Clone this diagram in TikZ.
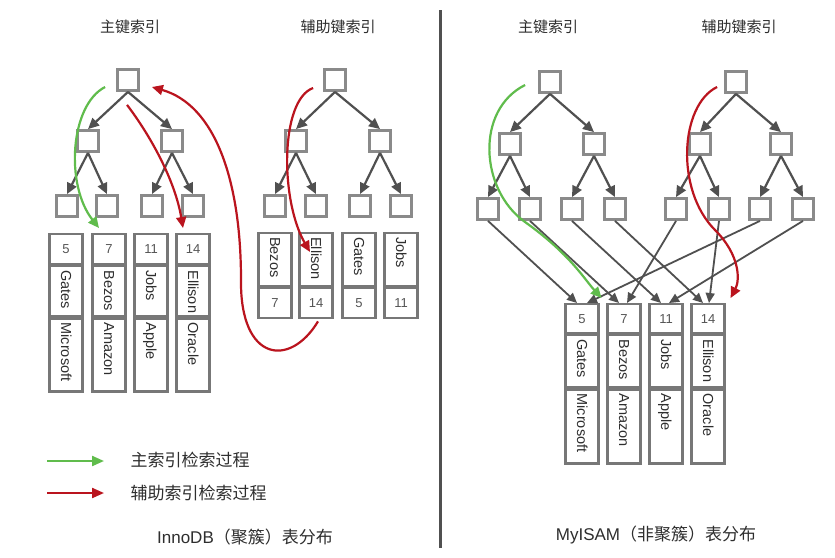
\documentclass[tikz,border=0pt]{standalone}
\usepackage{fontspec}
\setmainfont{Liberation Sans}
\newfontfamily\cjk{Noto Sans CJK SC}
\usetikzlibrary{arrows.meta,calc}

\definecolor{boxgray}{HTML}{8A8A8A}
\definecolor{edgegray}{HTML}{505050}
\definecolor{cellgray}{HTML}{777777}
\definecolor{txtgray}{HTML}{2E2E2E}
\definecolor{numgray}{HTML}{555555}
\definecolor{pathgreen}{RGB}{96,188,76}
\definecolor{pathred}{RGB}{186,20,30}

\begin{document}
\begin{tikzpicture}[x=1pt,y=-1pt,
  ibox/.style={draw=boxgray, line width=2.8pt, fill=white,
    minimum width=21pt, minimum height=21pt, inner sep=0pt},
  edge/.style={draw=edgegray, line width=2.2pt,
    -{Triangle[length=11pt,width=10pt]}},
  link/.style={draw=edgegray, line width=1.8pt,
    -{Triangle[length=10pt,width=9pt]}},
  cell/.style={draw=cellgray, line width=2.2pt, fill=white,
    minimum width=33pt, inner sep=0pt, anchor=north},
  numtext/.style={text=numgray, font=\fontsize{13}{15}\selectfont},
  vtext/.style={rotate=-90, anchor=west, inner sep=0pt, text=txtgray,
    text height=10pt, text depth=0pt, font=\fontsize{14.5}{16}\selectfont},
  green path/.style={draw=pathgreen, line width=2.2pt,
    -{Triangle[length=11pt,width=10pt]}},
  red path/.style={draw=pathred, line width=2.2pt,
    -{Triangle[length=11pt,width=10pt]}},
  title/.style={text=txtgray, font=\cjk\fontsize{15}{17}\selectfont},
  caption/.style={text=txtgray, font=\fontsize{17}{19}\selectfont},
  legendtext/.style={text=txtgray, anchor=west, font=\cjk\fontsize{17}{19}\selectfont},
  divider/.style={draw=edgegray, line width=3pt}
]
\path[fill=white] (0,0) rectangle (835,557);
\useasboundingbox (0,0) rectangle (835,557);

% ---------- titles ----------
\node[title] (t1) at (130,27) {主键索引};
\node[title] (t2) at (338,27) {辅助键索引};
\node[title] (t3) at (548,27) {主键索引};
\node[title] (t4) at (739,27) {辅助键索引};

% ---------- divider ----------
\coordinate (dtop) at (440,10);
\coordinate (dbot) at (440,548);
\draw[divider] (dtop) -- (dbot);

% ================= InnoDB =================
% primary index tree
\node[ibox] (pa)  at (128,80) {};
\node[ibox] (pb1) at (88,141) {};
\node[ibox] (pb2) at (172,141) {};
\node[ibox] (pc1) at (67,206) {};
\node[ibox] (pc2) at (107,206) {};
\node[ibox] (pc3) at (152,206) {};
\node[ibox] (pc4) at (193,206) {};
\draw[edge] (pa.south) -- (pb1.north);
\draw[edge] (pa.south) -- (pb2.north);
\draw[edge] (pb1.south) -- (pc1.north);
\draw[edge] (pb1.south) -- (pc2.north);
\draw[edge] (pb2.south) -- (pc3.north);
\draw[edge] (pb2.south) -- (pc4.north);

% primary index rows: key / name / company
\foreach \n/\x/\kv/\nm/\co in {1/66/5/Gates/Microsoft, 2/109/7/Bezos/Amazon,
                               3/151/11/Jobs/Apple, 4/193/14/Ellison/Oracle} {
  \node[cell, minimum height=30pt, numtext] (pk\n) at (\x,233) {\kv};
  \node[cell, minimum height=50pt] (pn\n) at (pk\n.south) {};
  \node[cell, minimum height=73pt] (pm\n) at (pn\n.south) {};
  \node[vtext] (pnt\n) at ([yshift=-5pt]pn\n.north) {\nm};
  \node[vtext] (pmt\n) at ([yshift=-5pt]pm\n.north) {\co};
}

% secondary index tree
\node[ibox] (sa)  at (335,80) {};
\node[ibox] (sb1) at (296,141) {};
\node[ibox] (sb2) at (380,141) {};
\node[ibox] (sc1) at (275,206) {};
\node[ibox] (sc2) at (316,206) {};
\node[ibox] (sc3) at (360,206) {};
\node[ibox] (sc4) at (401,206) {};
\draw[edge] (sa.south) -- (sb1.north);
\draw[edge] (sa.south) -- (sb2.north);
\draw[edge] (sb1.south) -- (sc1.north);
\draw[edge] (sb1.south) -- (sc2.north);
\draw[edge] (sb2.south) -- (sc3.north);
\draw[edge] (sb2.south) -- (sc4.north);

% secondary index rows: name / key
\foreach \n/\x/\nm/\kv in {1/275/Bezos/7, 2/316/Ellison/14,
                           3/359/Gates/5, 4/401/Jobs/11} {
  \node[cell, minimum height=53pt] (sn\n) at (\x,232) {};
  \node[cell, minimum height=30pt, numtext] (sk\n) at (sn\n.south) {\kv};
  \node[vtext] (snt\n) at ([yshift=-5pt]sn\n.north) {\nm};
}

% search paths
\coordinate (g1s) at ($(pa.west)+(-11,7)$);
\coordinate (g1e) at ($(pk2.north)+(-10,-5)$);
\draw[green path] (g1s) .. controls (70,105) and (65,185) .. (g1e);

\coordinate (r1s) at ($(pa.south)+(-1,13)$);
\coordinate (r1e) at ($(pk4.north)+(-10,-5)$);
\draw[red path] (r1s) .. controls (150,135) and (175,180) .. (r1e);

\coordinate (r2s) at ($(sa.west)+(-10,8)$);
\coordinate (r2e) at ($(sn2.north)+(-6,20)$);
\draw[red path] (r2s) .. controls (280,100) and (280,200) .. (r2e);

\coordinate (r3s) at ($(sk2.south)+(2,2)$);
\coordinate (r3m) at (241,280);
\coordinate (r3e) at ($(pa.east)+(12,7)$);
\draw[red path] (r3s) .. controls (290,368) and (240,362) .. (r3m)
  .. controls (241,180) and (215,105) .. (r3e);

% legend
\coordinate (lg1s) at (47,461);
\coordinate (lg1e) at (104,461);
\coordinate (lg2s) at (47,493);
\coordinate (lg2e) at (104,493);
\draw[green path, -{Triangle[length=12pt,width=10pt]}] (lg1s) -- (lg1e);
\draw[red path, -{Triangle[length=12pt,width=10pt]}] (lg2s) -- (lg2e);
\node[legendtext] (lt1) at (127,460) {主索引检索过程};
\node[legendtext] (lt2) at (127,493) {辅助索引检索过程};

\node[caption] (cap1) at (245,537) {InnoDB{\cjk（聚簇）表分布}};

% ================= MyISAM =================
% primary index tree
\node[ibox] (ma)  at (550,82) {};
\node[ibox] (mb1) at (510,144) {};
\node[ibox] (mb2) at (594,144) {};
\node[ibox] (mc1) at (488,209) {};
\node[ibox] (mc2) at (530,209) {};
\node[ibox] (mc3) at (572,209) {};
\node[ibox] (mc4) at (615,209) {};
\draw[edge] (ma.south) -- (mb1.north);
\draw[edge] (ma.south) -- (mb2.north);
\draw[edge] (mb1.south) -- (mc1.north);
\draw[edge] (mb1.south) -- (mc2.north);
\draw[edge] (mb2.south) -- (mc3.north);
\draw[edge] (mb2.south) -- (mc4.north);

% secondary index tree
\node[ibox] (na)  at (736,82) {};
\node[ibox] (nb1) at (700,144) {};
\node[ibox] (nb2) at (781,144) {};
\node[ibox] (nc1) at (676,209) {};
\node[ibox] (nc2) at (719,209) {};
\node[ibox] (nc3) at (760,209) {};
\node[ibox] (nc4) at (803,209) {};
\draw[edge] (na.south) -- (nb1.north);
\draw[edge] (na.south) -- (nb2.north);
\draw[edge] (nb1.south) -- (nc1.north);
\draw[edge] (nb1.south) -- (nc2.north);
\draw[edge] (nb2.south) -- (nc3.north);
\draw[edge] (nb2.south) -- (nc4.north);

% data file rows: key / name / company
\foreach \n/\x/\kv/\nm/\co in {1/582/5/Gates/Microsoft, 2/624/7/Bezos/Amazon,
                               3/666/11/Jobs/Apple, 4/708/14/Ellison/Oracle} {
  \node[cell, minimum height=29pt, numtext] (rk\n) at (\x,303) {\kv};
  \node[cell, minimum height=52pt] (rn\n) at (rk\n.south) {};
  \node[cell, minimum height=74pt] (rm\n) at (rn\n.south) {};
  \node[vtext] (rnt\n) at ([yshift=-5pt]rn\n.north) {\nm};
  \node[vtext] (rmt\n) at ([yshift=-5pt]rm\n.north) {\co};
}

% leaf pointers into the data file
\draw[link] (mc1.south) -- ([xshift=-5pt]rk1.north);
\draw[link] (mc2.south) -- ([xshift=-5pt]rk2.north);
\draw[link] (mc3.south) -- ([xshift=-5pt]rk3.north);
\draw[link] (mc4.south) -- ([xshift=-5pt]rk4.north);
\draw[link] (nc1.south) -- ([xshift=3pt]rk2.north);
\draw[link] (nc2.south) -- ([xshift=1pt]rk4.north);
\draw[link] (nc3.south) -- ([xshift=5pt]rk1.north);
\draw[link] (nc4.south) -- ([xshift=3pt]rk3.north);

% search paths
\coordinate (g2s) at ($(ma.west)+(-13,3)$);
\coordinate (g2m) at (525,222);
\coordinate (g2e) at ($(rk1.north east)+(2,-5)$);
\draw[green path] (g2s) .. controls (475,110) and (480,190) .. (g2m)
  .. controls (570,254) and (585,280) .. (g2e);

\coordinate (r4s) at ($(na.west)+(-7,5)$);
\coordinate (r4m) at (715,230);
\coordinate (r4e) at ($(rk4.north east)+(5,-5)$);
\draw[red path] (r4s) .. controls (680,105) and (675,190) .. (r4m)
  .. controls (740,255) and (740,280) .. (r4e);

\node[caption] (cap2) at (656,535) {MyISAM{\cjk（非聚簇）表分布}};
\end{tikzpicture}
\end{document}
